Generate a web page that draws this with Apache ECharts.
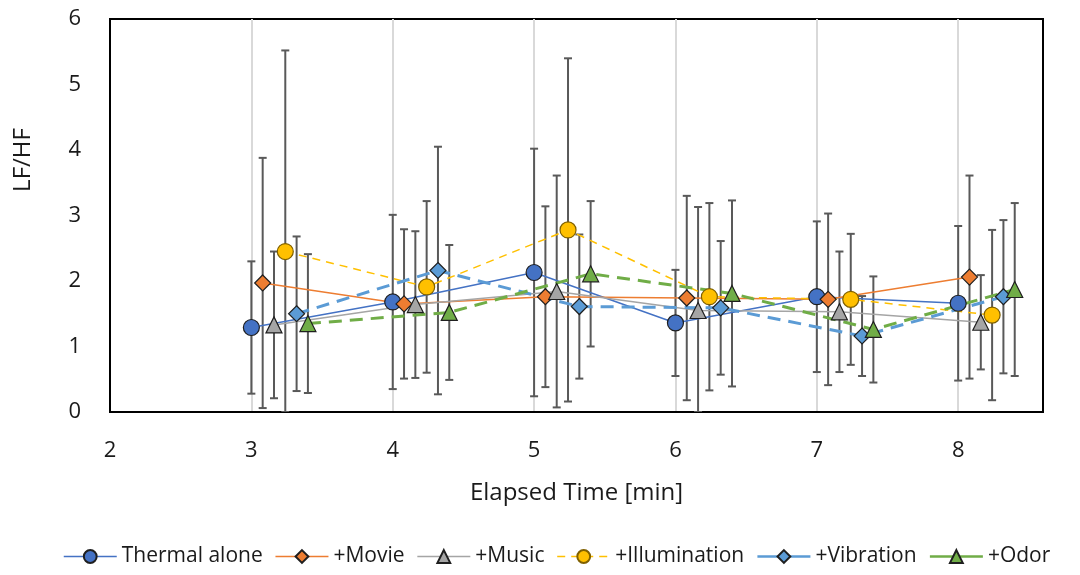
<!DOCTYPE html>
<html>
<head>
<meta charset="utf-8">
<script src="https://cdn.jsdelivr.net/npm/echarts@6/dist/echarts.min.js"></script>
<style>
  html, body { margin: 0; padding: 0; background: #fff; }
  #chart { width: 1080px; height: 575px; }
</style>
</head>
<body>
<div id="chart"></div>
<script>
// Elapsed time points [min]
const times = [3, 4, 5, 6, 7, 8];

// Mean LF/HF and standard deviation per condition
const thermalMean = [1.29, 1.68, 2.13, 1.36, 1.76, 1.66];
const thermalSd   = [1.01, 1.33, 1.89, 0.81, 1.15, 1.18];
const movieMean   = [1.97, 1.65, 1.76, 1.74, 1.72, 2.06];
const movieSd     = [1.91, 1.14, 1.38, 1.56, 1.31, 1.55];
const musicMean   = [1.33, 1.64, 1.84, 1.55, 1.53, 1.37];
const musicSd     = [1.12, 1.12, 1.77, 1.58, 0.92, 0.72];
const illumMean   = [2.45, 1.91, 2.78, 1.76, 1.72, 1.48];
const illumSd     = [3.07, 1.31, 2.62, 1.43, 1.00, 1.30];
const vibMean     = [1.50, 2.16, 1.61, 1.59, 1.16, 1.76];
const vibSd       = [1.18, 1.89, 1.10, 1.02, 0.61, 1.17];
const odorMean    = [1.35, 1.52, 2.11, 1.81, 1.26, 1.87];
const odorSd      = [1.06, 1.03, 1.11, 1.42, 0.81, 1.32];

const seriesNames = ['Thermal alone', '+Movie', '+Music', '+Illumination', '+Vibration', '+Odor'];

// Conditions are nudged sideways so their error bars don't overlap
const SHIFT = 0.08;
const FONT = '"Open Sans", "Liberation Sans", sans-serif';
const TEXT = '#1a1a1a';

const styles = [
  { color: '#4472C4', symbol: 'circle',   size: 16, width: 1.5, type: 'solid', legendType: 'solid', border: '#1f1f1f' },
  { color: '#ED7D31', symbol: 'diamond',  size: 16, width: 1.5, type: 'solid', legendType: 'solid', border: '#1f1f1f' },
  { color: '#A5A5A5', symbol: 'triangle', size: 16, width: 1.5, type: 'solid', legendType: 'solid', border: '#1f1f1f' },
  { color: '#FFC000', symbol: 'circle',   size: 16, width: 1.5, type: [8, 6],  legendType: [8, 6],  border: '#7f6000' },
  { color: '#5B9BD5', symbol: 'diamond',  size: 16, width: 3,   type: [13, 8], legendType: 'solid', border: '#1f1f1f' },
  { color: '#70AD47', symbol: 'triangle', size: 16, width: 3,   type: [13, 8], legendType: 'solid', border: '#1f1f1f' }
];

const means = [thermalMean, movieMean, musicMean, illumMean, vibMean, odorMean];
const sds   = [thermalSd, movieSd, musicSd, illumSd, vibSd, odorSd];

const series = [];

// Error bars (vertical whisker with caps), drawn under the markers
means.forEach((m, i) => {
  const data = times.map((t, j) => [t + i * SHIFT, m[j] - sds[i][j], m[j] + sds[i][j]]);
  series.push({
    type: 'custom',
    z: 1,
    clip: true,
    silent: true,
    data: data,
    renderItem: function (params, api) {
      const x = api.value(0);
      const lo = api.coord([x, Math.max(api.value(1), 0)]);
      const hi = api.coord([x, api.value(2)]);
      const cap = 4;
      const style = { stroke: '#595959', lineWidth: 2 };
      return {
        type: 'group',
        children: [
          { type: 'line', shape: { x1: lo[0], y1: lo[1], x2: hi[0], y2: hi[1] }, style: style },
          { type: 'line', shape: { x1: hi[0] - cap, y1: hi[1], x2: hi[0] + cap, y2: hi[1] }, style: style },
          { type: 'line', shape: { x1: lo[0] - cap, y1: lo[1], x2: lo[0] + cap, y2: lo[1] }, style: style }
        ]
      };
    }
  });
});

// Mean lines with markers
means.forEach((m, i) => {
  const s = styles[i];
  series.push({
    name: seriesNames[i],
    type: 'line',
    z: 3,
    data: times.map((t, j) => [t + i * SHIFT, m[j]]),
    symbol: s.symbol,
    symbolSize: s.size,
    showAllSymbol: true,
    lineStyle: { color: s.color, width: s.width, type: s.type },
    itemStyle: { color: s.color, borderColor: s.border, borderWidth: 1.2, opacity: 1 },
    emphasis: { disabled: true },
    animation: false
  });
});

const chart = echarts.init(document.getElementById('chart'), null, { renderer: 'canvas' });
chart.setOption({
  backgroundColor: '#ffffff',
  animation: false,
  grid: {
    left: 110, right: 37, top: 19, bottom: 163,
    show: true, borderColor: '#000', borderWidth: 2, backgroundColor: 'transparent'
  },
  // Y-axis title, placed a little above the middle of the axis
  graphic: [{
    type: 'text',
    x: 23,
    y: 160,
    rotation: Math.PI / 2,
    style: {
      text: 'LF/HF',
      fontFamily: FONT,
      fontSize: 24,
      fill: TEXT,
      align: 'center',
      verticalAlign: 'middle'
    }
  }],
  xAxis: {
    type: 'value',
    min: 2, max: 8.6, interval: 1,
    name: 'Elapsed Time [min]',
    nameLocation: 'middle',
    nameGap: 69,
    nameTextStyle: { fontFamily: FONT, fontSize: 24, color: TEXT },
    axisLine: { show: true, lineStyle: { color: '#000', width: 2 } },
    axisTick: { show: false },
    axisLabel: { fontFamily: FONT, fontSize: 22, color: TEXT, margin: 28, showMaxLabel: false },
    splitLine: { show: true, showMaxLine: false, lineStyle: { color: '#d9d9d9', width: 2 } }
  },
  yAxis: {
    type: 'value',
    min: 0, max: 6, interval: 1,
    axisLine: { show: true, lineStyle: { color: '#000', width: 2 } },
    axisTick: { show: false },
    axisLabel: { fontFamily: FONT, fontSize: 22, color: TEXT, margin: 29 },
    splitLine: { show: false }
  },
  legend: {
    data: seriesNames.map((n, i) => ({
      name: n,
      lineStyle: { type: styles[i].legendType, width: Math.min(styles[i].width, 2.5) }
    })),
    bottom: 3,
    left: 58,
    itemWidth: 53,
    itemHeight: 16,
    itemGap: 12,
    textStyle: { fontFamily: FONT, fontSize: 21, color: TEXT }
  },
  series: series
});
</script>
</body>
</html>
